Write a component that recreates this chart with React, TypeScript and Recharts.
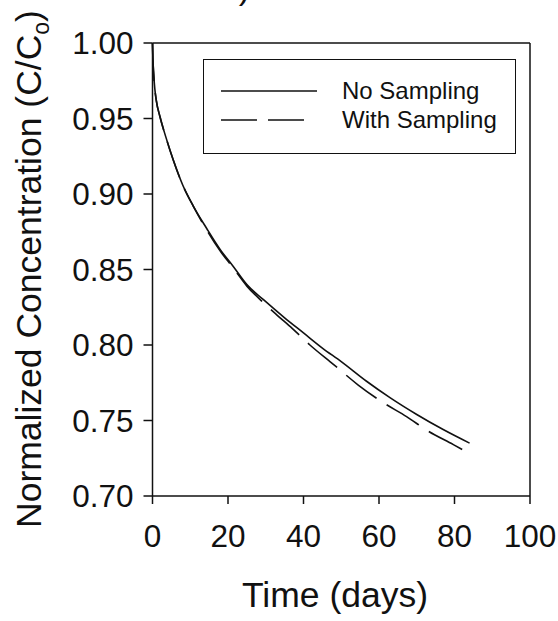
import React from "react";
import { LineChart, Line, XAxis, YAxis, ReferenceLine } from "recharts";

const noSamplingTime = [0, 0.1, 0.3, 0.6, 1, 2, 3.5, 5.5, 8, 10.8, 14.4, 18, 21.4, 25, 29.4, 35, 40, 45, 50, 56.7, 63, 70, 77, 84];
const noSamplingConc = [1.0, 0.99, 0.98, 0.97, 0.962, 0.951, 0.938, 0.9225, 0.906, 0.892, 0.877, 0.863, 0.852, 0.84, 0.83, 0.818, 0.808, 0.798, 0.789, 0.776, 0.765, 0.754, 0.744, 0.735];

const withSamplingTime = [0, 0.1, 0.3, 0.6, 1, 2, 3.5, 5.5, 8, 10.8, 14.4, 18, 21.4, 25, 29.4, 32.9, 37, 41.7, 48, 54.5, 61, 67.3, 73, 79.7, 84];
const withSamplingConc = [1.0, 0.99, 0.98, 0.97, 0.962, 0.951, 0.938, 0.9225, 0.906, 0.892, 0.876, 0.862, 0.851, 0.839, 0.828, 0.82, 0.811, 0.8, 0.787, 0.7735, 0.762, 0.7526, 0.743, 0.734, 0.728];

const xTicks = [0, 20, 40, 60, 80, 100];
const yTicks = [0.7, 0.75, 0.8, 0.85, 0.9, 0.95, 1.0];

const seriesNames = ["No Sampling", "With Sampling"];

const noSamplingData = noSamplingTime.map((t, i) => ({ t, c: noSamplingConc[i] }));
const withSamplingData = withSamplingTime.map((t, i) => ({ t, c: withSamplingConc[i] }));

const FONT = "'Liberation Sans', Arial, Helvetica, sans-serif";
const DASH = "38 12";

const LegendBox = () => (
  <div
    style={{
      position: "absolute",
      left: 203,
      top: 59,
      width: 313,
      height: 95,
      border: "1.5px solid #111",
      boxSizing: "border-box",
      background: "#fff",
    }}
  >
    <svg width={313} height={95} style={{ position: "absolute", left: -1.5, top: -1.5 }}>
      <line x1={18} x2={114} y1={32} y2={32} stroke="#111" strokeWidth={1.6} />
      <line x1={18} x2={101} y1={61} y2={61} stroke="#111" strokeWidth={1.6} strokeDasharray="36 11" />
      <text x={139} y={32} dy="0.35em" fontFamily={FONT} fontSize={24} fill="#111">{seriesNames[0]}</text>
      <text x={139} y={61} dy="0.35em" fontFamily={FONT} fontSize={24} fill="#111">{seriesNames[1]}</text>
    </svg>
  </div>
);

export default function App() {
  return (
    <div style={{ position: "absolute", left: 0, top: 0, width: 558, height: 621, background: "#fff" }}>
      <LineChart width={558} height={621} margin={{ top: 43, right: 28, left: 0, bottom: 0 }}>
        <XAxis
          dataKey="t"
          type="number"
          domain={[0, 100]}
          ticks={xTicks}
          allowDuplicatedCategory={false}
          height={125}
          tickSize={8}
          tickMargin={21}
          stroke="#111"
          strokeWidth={1.5}
          tick={{ fill: "#111", fontSize: 31.5, fontFamily: FONT }}
        />
        <YAxis
          dataKey="c"
          type="number"
          domain={[0.7, 1.0]}
          ticks={yTicks}
          width={152.5}
          tickSize={9}
          tickMargin={10}
          stroke="#111"
          strokeWidth={1.5}
          tickFormatter={(v: number) => v.toFixed(2)}
          tick={{ fill: "#111", fontSize: 31.5, fontFamily: FONT }}
        />
        <ReferenceLine y={1.0} stroke="#111" strokeWidth={1.5} />
        <ReferenceLine x={100} stroke="#111" strokeWidth={1.5} />
        <Line
          data={noSamplingData}
          dataKey="c"
          name={seriesNames[0]}
          type="monotone"
          stroke="#111"
          strokeWidth={1.6}
          dot={false}
          activeDot={false}
          isAnimationActive={false}
        />
        <Line
          data={withSamplingData}
          dataKey="c"
          name={seriesNames[1]}
          type="monotone"
          stroke="#111"
          strokeWidth={1.6}
          strokeDasharray={DASH}
          dot={false}
          activeDot={false}
          isAnimationActive={false}
        />
        <text x={335} y={607} textAnchor="middle" fontFamily={FONT} fontSize={35.5} fill="#111">
          Time (days)
        </text>
        <text
          x={41}
          y={269}
          transform="rotate(-90 41 269)"
          textAnchor="middle"
          fontFamily={FONT}
          fontSize={35.5}
          fill="#111"
        >
          Normalized Concentration (C/C<tspan fontSize={23} dy={8}>o</tspan><tspan dy={-8}>)</tspan>
        </text>
        <text x={250} y={-1} textAnchor="end" fontFamily={FONT} fontSize={34} fill="#111">
          b)
        </text>
      </LineChart>
      <LegendBox />
    </div>
  );
}
